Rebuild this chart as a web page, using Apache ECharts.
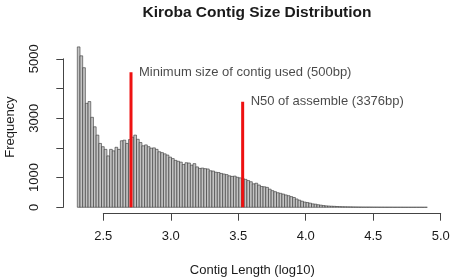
<!DOCTYPE html>
<html>
<head>
<meta charset="utf-8">
<script src="https://cdn.jsdelivr.net/npm/echarts@6/dist/echarts.min.js"></script>
<style>
  html, body { margin: 0; padding: 0; background: #fff; }
  #chart { width: 451px; height: 279px; }
</style>
</head>
<body>
<div id="chart"></div>
<script>
// histogram of log10 contig lengths, bins of 0.02 starting at 2.30
let binStart = 2.30;
let binWidth = 0.02;
let counts = [
  5400, 5100, 4700, 3500, 3560, 3030, 2710, 2430, 2150, 2040,
  1950, 1730, 1950, 1900, 2020, 1950, 2240, 2260, 2150, 2280,
  2360, 2430, 2290, 2180, 2070, 2100, 2040, 1990, 2000, 1950,
  1870, 1840, 1800, 1760, 1690, 1640, 1580, 1550, 1520, 1440,
  1500, 1490, 1420, 1470, 1360, 1310, 1320, 1300, 1290, 1230,
  1220, 1180, 1170, 1140, 1120, 1100, 1060, 1040, 1050, 1010,
  990, 970, 940, 900, 860, 790, 810, 750, 700, 690,
  670, 610, 560, 525, 490, 470, 445, 415, 390, 360,
  330, 280, 240, 205, 175, 160, 140, 115, 105, 85,
  72, 58, 48, 42, 36, 32, 26, 22, 19, 17,
  15, 14, 12, 11, 10, 9, 8, 7, 7, 6,
  5, 5, 4, 4, 3, 3, 3, 2, 2, 2,
  2, 1, 1, 1, 1, 1, 1, 1, 0, 1
];

let xTicks = [2.5, 3.0, 3.5, 4.0, 4.5, 5.0];
let yTicks = [0, 1000, 2000, 3000, 4000, 5000];
let yTickLabels = ['0', '1000', '', '3000', '', '5000'];

// vertical markers: [bp, line height, label]
let markerBp = [500, 3376];
let markerTop = [4550, 3550];
let markerText = ['Minimum size of contig used (500bp)', 'N50 of assemble (3376bp)'];

let font = 'Liberation Sans, Arial, Helvetica, sans-serif';
let ink = '#1a1a1a';

let bins = counts.map((c, i) => [binStart + i * binWidth, binStart + (i + 1) * binWidth, c]);

// R pads the plot region by 4% on each side
let xLo = binStart, xHi = binStart + counts.length * binWidth;
let yHi = Math.max.apply(null, counts);
let xPad = (xHi - xLo) * 0.04, yPad = yHi * 0.04;

let markerSeries = markerBp.map((bp, i) => ({
    type: 'line',
    xAxisIndex: 0, yAxisIndex: 0,
    data: [[Math.log10(bp), 0], [Math.log10(bp), markerTop[i]]],
    symbol: 'none',
    lineStyle: { color: '#ee1111', width: 3 },
    z: 5
}));
let markerLabels = {
    type: 'scatter',
    xAxisIndex: 0, yAxisIndex: 0,
    symbolSize: 0,
    data: markerBp.map((bp, i) => ({ value: [Math.log10(bp), markerTop[i]], name: markerText[i] })),
    label: {
        show: true, position: 'right', distance: 8,
        formatter: p => p.name,
        color: ink, fontFamily: font, fontSize: 13
    },
    z: 6
};

let option = {
    animation: false,
    backgroundColor: '#fff',
    title: {
        text: 'Kiroba Contig Size Distribution',
        left: 252, top: 0,
        textAlign: 'center',
        textStyle: { fontFamily: font, fontSize: 15.5, fontWeight: 'bold', color: ink }
    },
    grid: [
        // plot region
        { left: 63.3, top: 40.5, width: 378, height: 173.2, outerBoundsMode: 'none' },
        // x axis, spans the tick range only
        { left: 103.3, top: 212.7, width: 337.4, height: 1, outerBoundsMode: 'none' },
        // y axis, spans the tick range only
        { left: 63.3, top: 58.8, width: 1, height: 148.5, outerBoundsMode: 'none' }
    ],
    xAxis: [
        {
            gridIndex: 0, type: 'value', min: xLo - xPad, max: xHi + xPad,
            axisLine: { show: false }, axisTick: { show: false },
            axisLabel: { show: false }, splitLine: { show: false },
            name: 'Contig Length (log10)', nameLocation: 'middle', nameGap: 50,
            nameTextStyle: { fontFamily: font, fontSize: 13, color: ink }
        },
        {
            gridIndex: 1, type: 'value', min: xTicks[0], max: xTicks[xTicks.length - 1], interval: 0.5,
            axisLine: { lineStyle: { color: '#444', width: 1 } },
            axisTick: { length: 7, lineStyle: { color: '#444' } },
            axisLabel: { margin: 16, fontFamily: font, fontSize: 13, color: ink, formatter: v => v.toFixed(1) },
            splitLine: { show: false }
        },
        { gridIndex: 2, type: 'value', show: false }
    ],
    yAxis: [
        {
            gridIndex: 0, type: 'value', min: -yPad, max: yHi + yPad,
            axisLine: { show: false }, axisTick: { show: false },
            axisLabel: { show: false }, splitLine: { show: false },
            name: 'Frequency', nameLocation: 'middle', nameGap: 46,
            nameTextStyle: { fontFamily: font, fontSize: 13, color: ink }
        },
        { gridIndex: 1, type: 'value', show: false },
        {
            gridIndex: 2, type: 'value', min: yTicks[0], max: yTicks[yTicks.length - 1], interval: 1000,
            axisLine: { show: true, lineStyle: { color: '#444', width: 1 } },
            axisTick: { show: true, length: 7, lineStyle: { color: '#444' } },
            axisLabel: {
                rotate: 90, margin: 22, interval: 0,
                fontFamily: font, fontSize: 13, color: ink,
                formatter: v => yTickLabels[yTicks.indexOf(v)]
            },
            splitLine: { show: false }
        }
    ],
    series: [
        {
            type: 'custom',
            xAxisIndex: 0, yAxisIndex: 0,
            data: bins,
            encode: { x: [0, 1], y: 2 },
            renderItem: (params, api) => {
                let p0 = api.coord([api.value(0), api.value(2)]);
                let p1 = api.coord([api.value(1), 0]);
                return {
                    type: 'rect',
                    shape: { x: p0[0], y: p0[1], width: p1[0] - p0[0], height: p1[1] - p0[1] },
                    style: { fill: '#c4c4c4', stroke: '#333', lineWidth: 0.6 }
                };
            }
        }
    ].concat(markerSeries, [markerLabels])
};

let myChart = echarts.init(document.getElementById('chart'));
myChart.setOption(option);
</script>
</body>
</html>
